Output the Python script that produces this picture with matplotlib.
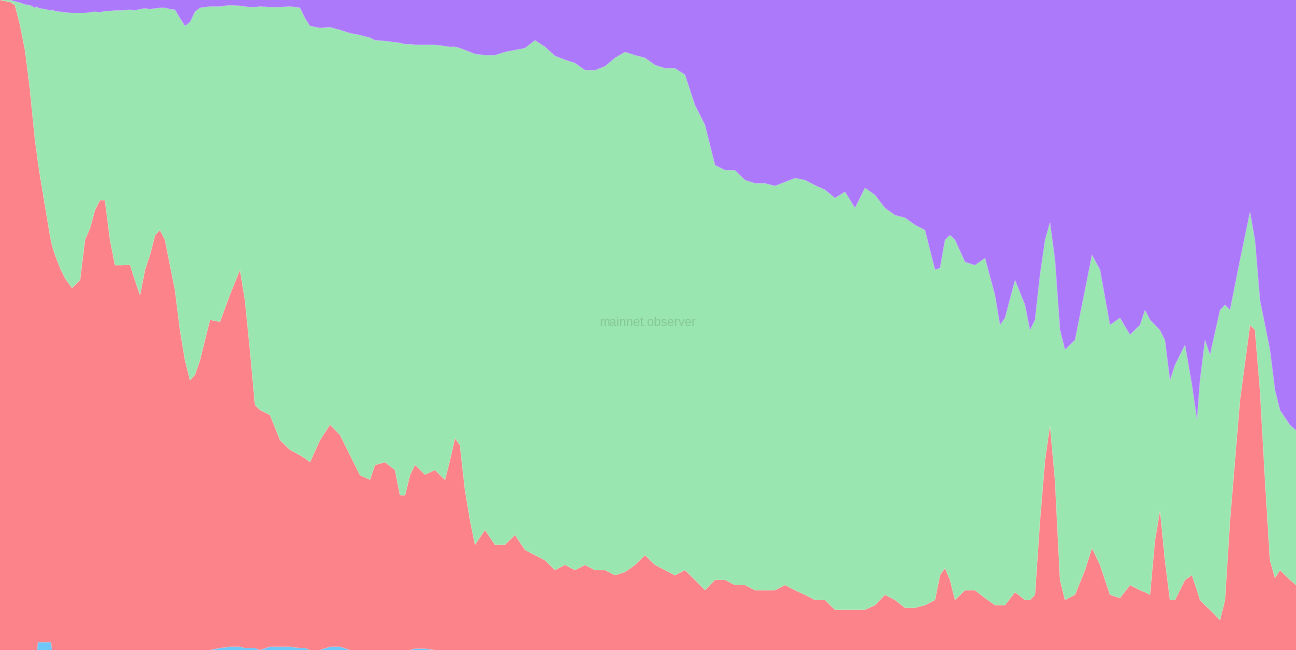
import matplotlib
matplotlib.use("Agg")
import matplotlib.pyplot as plt
import numpy as np

# --- data: share of nodes per client (%), stacked to 100 ---
day = [0, 10, 15, 20, 25, 30, 35, 37, 38, 40, 45, 50, 51, 52, 55, 60, 65, 72, 80, 85, 90, 95, 100, 105,
       110, 115, 120, 130, 135, 140, 145, 150, 155, 160, 165, 170, 175, 180, 185, 190, 195, 200, 205, 210,
       220, 230, 240, 245, 250, 255, 260, 270, 280, 290, 300, 305, 310, 320, 330, 340, 350, 360, 370, 375,
       385, 395, 400, 405, 410, 415, 425, 435, 445, 450, 455, 460, 465, 470, 475, 485, 495, 505, 515, 525,
       535, 545, 555, 565, 575, 585, 595, 605, 615, 625, 635, 645, 655, 665, 675, 685, 695, 705, 715, 725,
       735, 745, 755, 765, 775, 785, 795, 805, 815, 825, 835, 845, 855, 865, 875, 885, 895, 905, 915, 925,
       935, 940, 945, 950, 955, 965, 975, 985, 995, 1000, 1005, 1015, 1025, 1030, 1035, 1040, 1045, 1050, 1055, 1060,
       1065, 1075, 1085, 1092, 1100, 1110, 1120, 1130, 1140, 1145, 1150, 1155, 1160, 1165, 1170, 1175, 1185, 1192, 1197, 1200,
       1205, 1210, 1220, 1225, 1230, 1240, 1250, 1255, 1260, 1265, 1270, 1275, 1280, 1290, 1296]

blue = [0, 0, 0, 0, 0, 0, 0, 0, 1.2, 1.2, 1.2, 1.2, 1.2, 0, 0, 0, 0, 0, 0, 0, 0, 0, 0, 0,
        0, 0, 0, 0, 0, 0, 0, 0, 0, 0, 0, 0, 0, 0, 0, 0, 0, 0, 0, 0,
        0.3, 0.5, 0.5, 0.3, 0.3, 0.3, 0, 0.5, 0.5, 0.5, 0.3, 0.3, 0, 0, 0.5, 0.5, 0, 0, 0, 0,
        0, 0, 0, 0, 0, 0.2, 0.2, 0, 0, 0, 0, 0, 0, 0, 0, 0, 0, 0, 0, 0,
        0, 0, 0, 0, 0, 0, 0, 0, 0, 0, 0, 0, 0, 0, 0, 0, 0, 0, 0, 0,
        0, 0, 0, 0, 0, 0, 0, 0, 0, 0, 0, 0, 0, 0, 0, 0, 0, 0, 0, 0,
        0, 0, 0, 0, 0, 0, 0, 0, 0, 0, 0, 0, 0, 0, 0, 0, 0, 0, 0, 0,
        0, 0, 0, 0, 0, 0, 0, 0, 0, 0, 0, 0, 0, 0, 0, 0, 0, 0, 0, 0,
        0, 0, 0, 0, 0, 0, 0, 0, 0, 0, 0, 0, 0, 0, 0]

red = [100, 99.7, 99.2, 96.2, 92.3, 86.2, 78.5, 76.2, 73.8, 71.8, 67.2, 62.6, 61.8, 62.3, 60.8, 58.8, 57.2, 55.7, 56.9, 63.1, 64.9, 67.7, 69.2, 69.2,
       63.1, 59.2, 59.2, 59.2, 56.9, 54.6, 58.5, 60.8, 63.8, 64.6, 63.1, 59.2, 55.4, 49.2, 44.6, 41.5, 42.3, 44.6, 47.7, 50.8,
       50.2, 54.2, 58.0, 53.5, 45.8, 37.4, 36.9, 35.7, 31.8, 30.3, 29.7, 29.2, 28.9, 32.3, 34.2, 32.6, 30.0, 26.9, 26.2, 28.5,
       28.9, 27.7, 23.8, 23.8, 26.9, 28.3, 26.8, 27.7, 26.2, 29.2, 32.6, 31.5, 24.6, 20.0, 16.2, 18.5, 16.2, 16.2, 17.7, 15.4,
       14.6, 13.8, 12.3, 13.1, 12.3, 13.1, 12.3, 12.3, 11.5, 12.0, 13.1, 14.6, 13.1, 12.3, 11.5, 12.3, 10.8, 9.2, 10.8, 10.8,
       10.0, 10.0, 9.2, 9.2, 9.2, 10.0, 9.2, 8.5, 7.7, 7.7, 6.2, 6.2, 6.2, 6.2, 6.9, 8.5, 7.7, 6.5, 6.5, 6.9,
       7.7, 11.5, 12.6, 10.8, 7.7, 9.2, 9.2, 8.0, 6.9, 6.9, 6.9, 8.9, 7.7, 7.7, 8.5, 20.0, 29.2, 34.6, 26.2, 10.8,
       7.7, 8.5, 12.3, 15.7, 13.1, 8.5, 8.0, 10.0, 9.2, 8.9, 8.5, 16.9, 21.5, 13.8, 7.7, 7.7, 10.8, 11.5, 9.2, 7.7,
       6.9, 6.2, 4.6, 7.7, 20.0, 38.5, 50.0, 49.2, 40.0, 26.2, 13.8, 11.1, 12.3, 10.8, 10.0]

green = [0, 0.3, 0.6, 3.4, 7.0, 13.0, 20.3, 22.8, 23.8, 25.7, 30.2, 34.6, 35.4, 36.2, 37.5, 39.4, 40.9, 42.3, 41.1, 34.9, 33.2, 30.5, 28.9, 29.1,
         35.2, 39.2, 39.2, 39.2, 41.5, 44.0, 40.2, 37.8, 34.9, 34.2, 35.7, 39.4, 43.1, 48.0, 51.4, 55.1, 55.8, 54.2, 51.2, 48.2,
         48.5, 44.5, 40.6, 45.2, 52.8, 61.2, 62.0, 62.8, 66.6, 68.2, 68.9, 67.7, 67.1, 63.4, 61.2, 62.3, 64.9, 67.7, 68.0, 65.4,
         64.8, 65.8, 69.5, 69.4, 66.3, 64.6, 66.2, 65.4, 66.8, 63.5, 60.2, 61.1, 67.7, 72.0, 75.5, 73.1, 75.4, 75.8, 74.6, 77.2,
         79.2, 78.9, 79.1, 77.7, 78.0, 76.2, 76.9, 77.5, 79.5, 80.0, 78.5, 76.5, 76.9, 77.2, 78.0, 76.2, 73.1, 71.5, 63.8, 63.1,
         63.8, 62.3, 62.6, 62.6, 62.2, 62.0, 63.4, 63.8, 63.8, 63.1, 63.4, 64.3, 61.8, 64.9, 63.1, 59.5, 59.2, 60.0, 58.9, 57.7,
         50.8, 47.2, 50.5, 53.1, 55.4, 50.5, 50.0, 52.3, 47.7, 43.1, 44.2, 48.0, 45.4, 41.5, 42.3, 37.7, 33.8, 31.2, 33.8, 38.5,
         38.5, 39.2, 43.1, 45.1, 45.4, 41.5, 43.1, 38.5, 40.8, 43.4, 42.3, 33.1, 27.7, 33.8, 33.8, 36.2, 36.2, 29.2, 26.2, 33.8,
         40.8, 39.2, 47.7, 45.4, 32.3, 21.5, 17.4, 13.8, 13.8, 23.8, 32.3, 28.9, 24.6, 23.8, 23.8]

purple = [0, 0, 0.2, 0.4, 0.7, 0.8, 1.2, 1.0, 1.2, 1.3, 1.4, 1.6, 1.6, 1.5, 1.7, 1.8, 1.9, 2.0, 2.0, 2.0, 1.9, 1.8, 1.9, 1.7,
          1.7, 1.6, 1.6, 1.5, 1.6, 1.4, 1.3, 1.4, 1.3, 1.2, 1.2, 1.4, 1.5, 2.8, 4.0, 3.4, 1.8, 1.2, 1.1, 1.0,
          1.0, 0.8, 0.9, 1.0, 1.1, 1.1, 1.0, 1.1, 1.1, 1.0, 1.2, 2.8, 4.0, 4.3, 4.2, 4.6, 5.1, 5.4, 5.8, 6.2,
          6.3, 6.5, 6.6, 6.8, 6.8, 6.9, 6.9, 6.9, 7.1, 7.2, 7.2, 7.4, 7.7, 8.0, 8.3, 8.5, 8.5, 8.0, 7.7, 7.4,
          6.2, 7.2, 8.6, 9.2, 9.7, 10.8, 10.8, 10.2, 8.9, 8.0, 8.5, 8.9, 10.0, 10.5, 10.5, 11.5, 16.2, 19.2, 25.4, 26.2,
          26.2, 27.7, 28.2, 28.2, 28.6, 28.0, 27.4, 27.7, 28.5, 29.2, 30.5, 29.5, 32.0, 28.9, 30.0, 32.0, 33.1, 33.5, 34.6, 35.4,
          41.5, 41.2, 36.9, 36.2, 36.9, 40.3, 40.8, 39.7, 45.4, 50.0, 48.9, 43.1, 46.9, 50.8, 49.2, 42.3, 36.9, 34.2, 40.0, 50.8,
          53.8, 52.3, 44.6, 39.2, 41.5, 50.0, 48.9, 51.5, 50.0, 47.7, 49.2, 50.0, 50.8, 52.3, 58.5, 56.2, 53.1, 59.2, 64.6, 58.5,
          52.3, 54.6, 47.7, 46.9, 47.7, 40.0, 32.6, 36.9, 46.2, 50.0, 53.8, 60.0, 63.1, 65.4, 66.2]

colors = ["#6ec6f9", "#fc8389", "#9ae6b0", "#ac79fb"]

# normalise so every column sums to 100
vals = np.array([blue, red, green, purple], dtype=float)
vals = vals / vals.sum(axis=0) * 100

fig = plt.figure(figsize=(12.96, 6.5), dpi=100)
ax = fig.add_axes([0, 0, 1, 1])
ax.stackplot(day, vals, colors=colors, linewidth=0, antialiased=True)
ax.set_xlim(day[0], day[-1])
ax.set_ylim(0, 100)
ax.axis("off")

ax.text(0.5, 0.503, "mainnet.observer", transform=ax.transAxes, ha="center", va="center",
        fontsize=9, color="#86c896", family="Liberation Sans")

fig.savefig("out.png", dpi=100)
